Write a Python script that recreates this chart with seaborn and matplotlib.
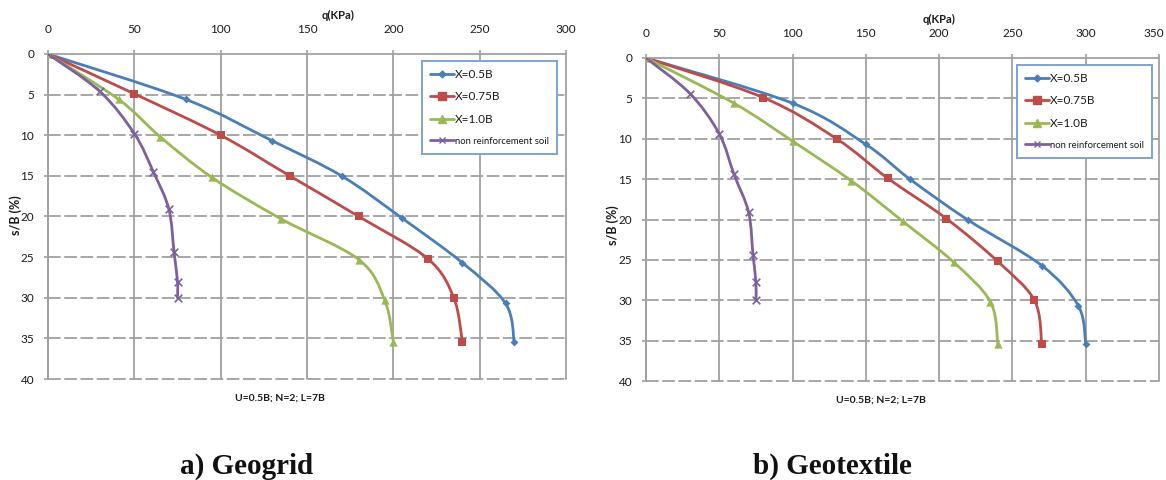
import numpy as np
import matplotlib
matplotlib.use("Agg")
import matplotlib.pyplot as plt
import matplotlib.transforms as mtransforms
from matplotlib.path import Path
from matplotlib.patches import PathPatch
from matplotlib.lines import Line2D
import seaborn as sns
import pandas as pd

# ---- data: bearing pressure q (kPa) vs. settlement ratio s/B (%) ----
series_names = ["X=0.5B", "X=0.75B", "X=1.0B", "non reinforcement soil"]

# a) Geogrid
geogrid_q = {
    "X=0.5B": [0, 80, 130, 170, 205, 240, 265, 270],
    "X=0.75B": [0, 50, 100, 140, 180, 220, 235, 240],
    "X=1.0B": [0, 41, 65, 95, 135, 180, 195, 200],
    "non reinforcement soil": [0, 30, 50, 61, 70, 73, 75, 75],
}
geogrid_s = {
    "X=0.5B": [0, 5.6, 10.7, 15.0, 20.2, 25.7, 30.7, 35.5],
    "X=0.75B": [0, 4.9, 10.0, 15.0, 20.0, 25.2, 30.0, 35.4],
    "X=1.0B": [0, 5.6, 10.2, 15.2, 20.3, 25.3, 30.3, 35.4],
    "non reinforcement soil": [0, 4.6, 9.8, 14.5, 19.1, 24.4, 28.0, 30.0],
}

# b) Geotextile
geotextile_q = {
    "X=0.5B": [0, 100, 150, 180, 220, 270, 295, 300],
    "X=0.75B": [0, 80, 130, 165, 205, 240, 265, 270],
    "X=1.0B": [0, 60, 100, 140, 175, 210, 235, 240],
    "non reinforcement soil": [0, 30, 50, 60, 70, 73, 75, 75],
}
geotextile_s = {
    "X=0.5B": [0, 5.6, 10.7, 15.0, 20.1, 25.7, 30.7, 35.4],
    "X=0.75B": [0, 4.9, 10.0, 14.9, 19.9, 25.2, 30.0, 35.4],
    "X=1.0B": [0, 5.6, 10.3, 15.2, 20.2, 25.3, 30.2, 35.4],
    "non reinforcement soil": [0, 4.4, 9.4, 14.4, 19.1, 24.4, 27.8, 30.0],
}

x_ticks_a = [0, 50, 100, 150, 200, 250, 300]
x_ticks_b = [0, 50, 100, 150, 200, 250, 300, 350]
y_ticks = [0, 5, 10, 15, 20, 25, 30, 35, 40]

x_title = "q(KPa)"
y_title = "s/B (%)"
note_text = "U=0.5B; N=2; L=7B"
captions = ["a) Geogrid", "b) Geotextile"]

# ---- styling ----
colors = {
    "X=0.5B": "#4A7EBB",
    "X=0.75B": "#BE4B48",
    "X=1.0B": "#98B954",
    "non reinforcement soil": "#7D60A0",
}
markers = {"X=0.5B": "D", "X=0.75B": "s", "X=1.0B": "^", "non reinforcement soil": "x"}
msize = {"X=0.5B": 16, "X=0.75B": 36, "X=1.0B": 36, "non reinforcement soil": 30}
legend_ms = {"X=0.5B": 3.5, "X=0.75B": 5.5, "X=1.0B": 5.5, "non reinforcement soil": 5}

sns.set_theme(style="white")
plt.rcParams["font.family"] = ["Lato", "DejaVu Sans"]
plt.rcParams["lines.scale_dashes"] = True

GRID = "#A0A0A0"
TEXT = "#1A1A1A"

W, H = 1166, 480
fig = plt.figure(figsize=(W / 100, H / 100), dpi=100)


def smooth_path(xs, ys):
    """Cubic Bezier path through the points (Catmull-Rom style smoothing)."""
    pts = np.column_stack([xs, ys]).astype(float)
    n = len(pts)
    verts = [pts[0]]
    codes = [Path.MOVETO]
    for i in range(n - 1):
        p_prev = pts[i - 1] if i > 0 else pts[i]
        p0 = pts[i]
        p1 = pts[i + 1]
        p_next = pts[i + 2] if i + 2 < n else pts[i + 1]
        c1 = p0 + (p1 - p_prev) / 6.0
        c2 = p1 - (p_next - p0) / 6.0
        verts += [c1, c2, p1]
        codes += [Path.CURVE4] * 3
    return Path(verts, codes)


def draw_panel(rect, q_data, s_data, xticks, legend_rect):
    ax = fig.add_axes(rect)
    ax.set_xlim(xticks[0], xticks[-1])
    ax.set_ylim(40, 0)

    # grid: solid verticals, dashed horizontals
    for xv in xticks:
        ax.axvline(xv, color=GRID, lw=1.3, zorder=0.5, clip_on=False)
    for yv in y_ticks[1:]:
        ax.axhline(yv, color=GRID, lw=1.3, ls=(0, (7, 2)), zorder=0.5, clip_on=False)

    for sp in ["right", "bottom"]:
        ax.spines[sp].set_visible(False)
    for sp in ["top", "left"]:
        ax.spines[sp].set_color(GRID)
        ax.spines[sp].set_linewidth(1.3)

    frames = []
    for name in series_names:
        frames.append(pd.DataFrame({"q": q_data[name], "s": s_data[name], "series": name}))
    df = pd.concat(frames, ignore_index=True)

    for name in series_names:
        sub = df[df["series"] == name]
        path = smooth_path(sub["q"].to_numpy(), sub["s"].to_numpy())
        ax.add_patch(PathPatch(path, facecolor="none", edgecolor=colors[name],
                               lw=2.0, zorder=2, capstyle="round", joinstyle="round"))
        kw = dict(linewidth=1.2) if markers[name] == "x" else dict(linewidth=0)
        sns.scatterplot(data=sub, x="q", y="s", ax=ax, color=colors[name],
                        marker=markers[name], s=msize[name], zorder=3,
                        legend=False, **kw)

    ax.set_xlabel("")
    ax.set_ylabel("")
    ax.xaxis.set_ticks_position("top")
    ax.set_xticks(xticks)
    ax.set_yticks(y_ticks)
    ax.tick_params(axis="x", which="both", top=True, bottom=False, direction="out",
                   length=3, width=1.2, color=GRID, pad=11, labelsize=8.5,
                   labelcolor=TEXT)
    ax.tick_params(axis="y", which="both", left=True, direction="out",
                   length=3, width=1.2, color=GRID, pad=7, labelsize=8.5,
                   labelcolor=TEXT)

    handles = [Line2D([0], [0], color=colors[n], lw=2, marker=markers[n],
                      markersize=legend_ms[n], markeredgewidth=1.0)
               for n in series_names]
    leg = fig.legend(handles, series_names, loc="upper left",
                     bbox_to_anchor=legend_rect, bbox_transform=fig.transFigure,
                     frameon=True, fancybox=False, shadow=False,
                     edgecolor="#7FA3D1", facecolor="white", framealpha=1,
                     fontsize=8.5, handlelength=2.0, handletextpad=0.1,
                     labelspacing=0.95, borderpad=0.7, borderaxespad=0)
    leg.get_frame().set_linewidth(1.4)
    for t in leg.get_texts():
        t.set_color(TEXT)
    leg.get_texts()[-1].set_fontsize(6.8)
    return ax


# pixel-based layout helpers
def rect_px(x0, y0, x1, y1):
    return [x0 / W, 1 - y1 / H, (x1 - x0) / W, (y1 - y0) / H]


ax_a = draw_panel(rect_px(48, 54, 566, 379), geogrid_q, geogrid_s, x_ticks_a,
                  (422 / W, 1 - 61 / H))
ax_b = draw_panel(rect_px(646, 58, 1159, 381), geotextile_q, geotextile_s, x_ticks_b,
                  (1017 / W, 1 - 65 / H))

# keep the last tick label of the right panel inside the figure edge
last_lbl = ax_b.xaxis.get_majorticklabels()[-1]
last_lbl.set_transform(last_lbl.get_transform() +
                       mtransforms.ScaledTranslation(-5 / 100, 0, fig.dpi_scale_trans))

# axis titles and notes
fig.text(338 / W, 1 - 15 / H, x_title, ha="center", va="center",
         fontsize=8, fontweight="bold", color=TEXT)
fig.text(939 / W, 1 - 19 / H, x_title, ha="center", va="center",
         fontsize=8, fontweight="bold", color=TEXT)
fig.text(16 / W, 1 - 215 / H, y_title, ha="center", va="center", rotation=90,
         fontsize=9, fontweight="bold", color=TEXT)
fig.text(613 / W, 1 - 225 / H, y_title, ha="center", va="center", rotation=90,
         fontsize=9, fontweight="bold", color=TEXT)
fig.text(280 / W, 1 - 398 / H, note_text, ha="center", va="center",
         fontsize=7.5, fontweight="bold", color=TEXT)
fig.text(881 / W, 1 - 400 / H, note_text, ha="center", va="center",
         fontsize=7.5, fontweight="bold", color=TEXT)

# panel captions
fig.text(247 / W, 1 - 466 / H, captions[0], ha="center", va="center",
         fontsize=21, fontweight="bold", family=["Liberation Serif", "DejaVu Serif"],
         color="#111111")
fig.text(832 / W, 1 - 466 / H, captions[1], ha="center", va="center",
         fontsize=21, fontweight="bold", family=["Liberation Serif", "DejaVu Serif"],
         color="#111111")

fig.savefig("out.png", dpi=100, facecolor="white")
